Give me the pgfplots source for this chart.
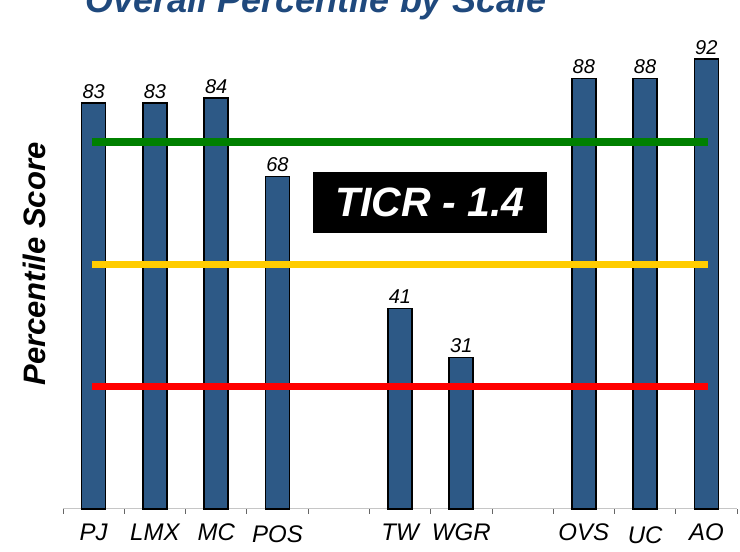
\documentclass[border=0pt]{standalone}
\usepackage{fontspec}
\setmainfont{Liberation Sans}
\usepackage{graphicx}
\usepackage{pgfplots}
\pgfplotsset{compat=1.18}
\definecolor{barblue}{RGB}{45,89,134}
\definecolor{titleblue}{RGB}{31,73,125}
\definecolor{lgreen}{RGB}{0,128,0}
\definecolor{lyellow}{RGB}{255,204,0}
\definecolor{lred}{RGB}{255,0,0}
\begin{document}
\begin{tikzpicture}[x=1pt,y=1pt]
\begin{axis}[
  at={(63pt,43pt)}, anchor=south west,
  scale only axis, width=674pt, height=489pt,
  xmin=-0.5, xmax=10.5, ymin=0, ymax=100,
  axis x line*=bottom, axis y line=none,
  x axis line style={draw=gray!45, line width=1pt},
  xtick={0,1,2,3,5,6,8,9,10},
  xticklabels={PJ,LMX,MC,\raisebox{-1.5pt}{POS},TW,WGR,OVS,\raisebox{-2.5pt}{UC},AO},
  major tick length=0pt,
  minor xtick={-0.5,0.5,...,10.5},
  minor tick length=5pt, tick align=outside,
  minor tick style={draw=gray!80!black, line width=0.8pt},
  xticklabel style={font=\fontsize{24}{24}\selectfont\itshape, anchor=base, yshift=-32pt},
  ytick=\empty,
  clip=false,
]
\addplot[ybar, bar width=24pt, fill=barblue, draw=black, line width=1.6pt,
  nodes near coords,
  nodes near coords style={font=\fontsize{20}{20}\selectfont\itshape, anchor=base, yshift=5pt, text=black, /pgf/number format/assume math mode=true}]
  coordinates {(0,83) (1,83) (2,84) (3,68) (5,41) (6,31) (8,88) (9,88) (10,92)};
\addplot[lgreen, line width=7.5pt, sharp plot, mark=none] coordinates {(-0.03,75) (10.03,75)};
\addplot[lyellow, line width=7.5pt, sharp plot, mark=none] coordinates {(-0.03,50) (10.03,50)};
\addplot[lred, line width=7.5pt, sharp plot, mark=none] coordinates {(-0.03,25) (10.03,25)};
\end{axis}
\node[fill=black, minimum width=234pt, minimum height=61pt, inner sep=0pt, text=white,
  font=\fontsize{41}{41}\selectfont\bfseries\itshape] at (430,349.5) {TICR - 1.4};
\node[anchor=base, text=titleblue, font=\fontsize{36}{36}\selectfont\bfseries\itshape] at (316,539.5) {Overall Percentile by Scale};
\node[rotate=90, anchor=center, font=\fontsize{31}{31}\selectfont\bfseries\itshape] at (34,288) {Percentile Score};
\pgfresetboundingbox
\path[use as bounding box] (0,0) rectangle (740,552);
\end{tikzpicture}
\end{document}
